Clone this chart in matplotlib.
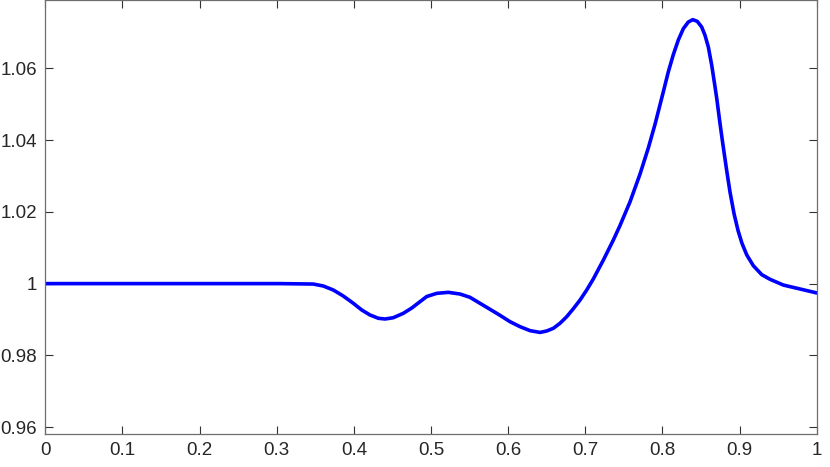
import matplotlib
matplotlib.use("Agg")
from matplotlib import pyplot as plt

# curve
x_vals = [0.0, 0.1, 0.2, 0.3, 0.3043, 0.3474, 0.3604, 0.3734, 0.3863,
          0.3993, 0.4102, 0.4209, 0.4317, 0.4404, 0.4511, 0.4641, 0.4750,
          0.4835, 0.4944, 0.5074, 0.5224, 0.5376, 0.5505, 0.5635, 0.5765,
          0.5894, 0.6024, 0.6154, 0.6284, 0.6413, 0.6500, 0.6586, 0.6672,
          0.6759, 0.6845, 0.6932, 0.7018, 0.7104, 0.7234, 0.7363, 0.7450,
          0.7580, 0.7709, 0.7817, 0.7904, 0.8012, 0.8076, 0.8141, 0.8206,
          0.8271, 0.8335, 0.8393, 0.8452, 0.8509, 0.8552, 0.8595, 0.8639,
          0.8682, 0.8704, 0.8747, 0.8779, 0.8833, 0.8876, 0.8928, 0.8980,
          0.9030, 0.9093, 0.9178, 0.9287, 0.9395, 0.9567, 0.9784, 1.0]
y_vals = [1.0, 1.0, 1.0, 1.0, 1.0, 0.99988, 0.99933, 0.99821, 0.99654,
          0.99451, 0.99265, 0.99126, 0.99034, 0.99014, 0.99050, 0.99173,
          0.99320, 0.99460, 0.99640, 0.99729, 0.99757, 0.99710, 0.99618,
          0.99451, 0.99284, 0.99117, 0.98939, 0.98800, 0.98689, 0.98640,
          0.98680, 0.98755, 0.98895, 0.99078, 0.99301, 0.99543, 0.99821,
          1.00130, 1.00656, 1.01213, 1.01620, 1.02280, 1.03050, 1.03780,
          1.04440, 1.05350, 1.05900, 1.06380, 1.06790, 1.07105, 1.07289,
          1.07355, 1.07308, 1.07149, 1.06918, 1.06593, 1.06083, 1.05480,
          1.05160, 1.04450, 1.03950, 1.03150, 1.02550, 1.01950, 1.01480,
          1.01130, 1.00800, 1.00500, 1.00250, 1.00120, 0.99960, 0.99850,
          0.99740]

x_ticks = [0, 0.1, 0.2, 0.3, 0.4, 0.5, 0.6, 0.7, 0.8, 0.9, 1]
y_ticks = [0.96, 0.98, 1.0, 1.02, 1.04, 1.06]

plt.rcParams["font.family"] = ["Liberation Sans", "DejaVu Sans"]

fig = plt.figure(figsize=(8.3, 4.67), dpi=100)
ax = fig.add_axes([0.0546, 0.0707, 0.9294, 0.9283])

ax.plot(x_vals, y_vals, color="#0000ff", linewidth=2.6,
        solid_joinstyle="round", solid_capstyle="round")

ax.set_xlim(0, 1)
ax.set_ylim(0.9581, 1.0789)
ax.set_xticks(x_ticks)
ax.set_xticklabels(["%g" % t for t in x_ticks])
ax.set_yticks(y_ticks)
ax.set_yticklabels(["%g" % t for t in y_ticks])

ax.tick_params(direction="in", length=5.8, width=0.8, color="#333333",
               labelsize=13.5, labelcolor="#262626", pad=6,
               top=True, right=True)
for sp in ax.spines.values():
    sp.set_color("#6e6e6e")
    sp.set_linewidth(0.9)

fig.savefig("out.png", dpi=100)
